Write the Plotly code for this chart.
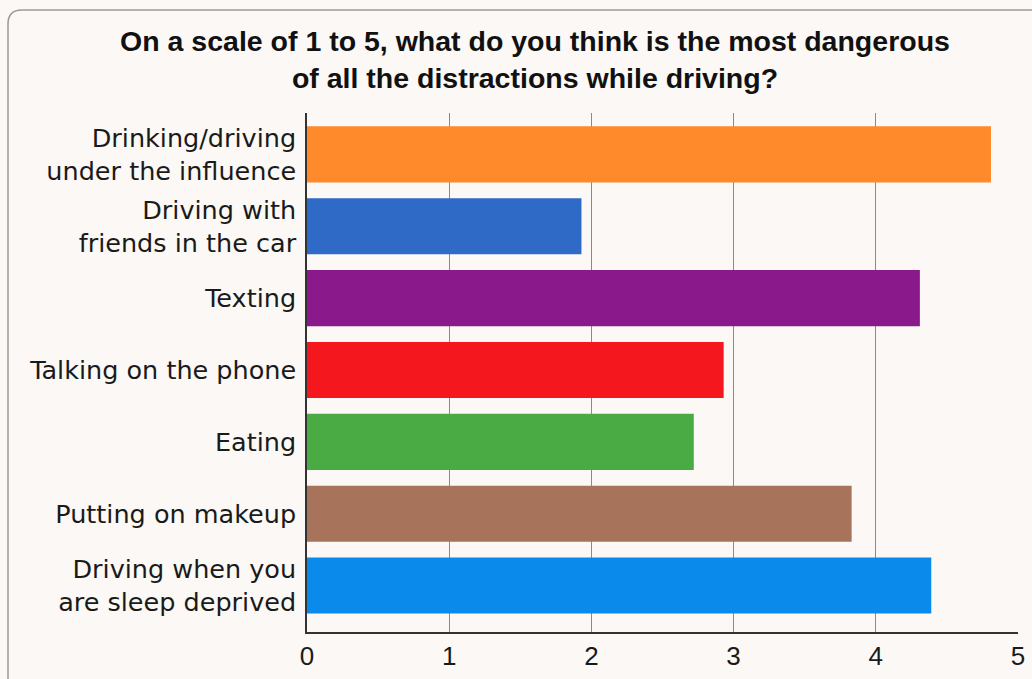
import plotly.graph_objects as go

categories = [
    "Drinking/driving<br>under the influence",
    "Driving with<br>friends in the car",
    "Texting",
    "Talking on the phone",
    "Eating",
    "Putting on makeup",
    "Driving when you<br>are sleep deprived",
]
values = [4.81, 1.93, 4.31, 2.93, 2.72, 3.83, 4.39]
colors = ["#FF8A2C", "#2F6AC6", "#8A1A8B", "#F5171E", "#4AAA43", "#A8735B", "#0A8AEB"]
x_ticks = [0, 1, 2, 3, 4, 5]

W, H = 1032, 679
L, R, T, B = 307, 14, 113, 47
pw, ph = W - L - R, H - T - B


def px(x):
    return (x - L) / pw


def py(y):
    return (H - B - y) / ph


fig = go.Figure()
fig.add_trace(go.Bar(
    y=categories, x=values, orientation="h",
    marker=dict(color=colors, line=dict(width=0)),
    hoverinfo="x+y",
))

border = (
    f"M {px(8)},{py(690)} L {px(8)},{py(24)} "
    f"Q {px(8)},{py(10)} {px(22)},{py(10)} L {px(1040)},{py(10)}"
)

fig.update_layout(
    width=W, height=H,
    margin=dict(l=L, r=R, t=T, b=B, autoexpand=False),
    paper_bgcolor="#FBF8F5",
    plot_bgcolor="rgba(0,0,0,0)",
    bargap=0.22,
    showlegend=False,
    font=dict(family="Liberation Sans, Arial, sans-serif", color="#1a1a1a"),
    title=dict(
        text="<b>On a scale of 1 to 5, what do you think is the most dangerous<br>of all the distractions while driving?</b>",
        x=535 / W, xanchor="center",
        y=1 - 51 / H, yanchor="middle",
        font=dict(size=28.5, family="Liberation Sans Narrow, Liberation Sans, Arial", color="#111"),
    ),
    xaxis=dict(
        range=[0, 5], tickvals=x_ticks, ticktext=[str(v) for v in x_ticks],
        showgrid=True, gridcolor="#8a8a8a", gridwidth=1,
        showline=True, linecolor="#333", linewidth=1.5,
        zeroline=False, ticks="", tickfont=dict(size=26, color="#1a1a1a"),
        ticklabelstandoff=0, automargin=False,
        fixedrange=True,
    ),
    yaxis=dict(
        categoryorder="array", categoryarray=categories,
        range=[6.646, -0.576],
        showgrid=False, showline=True, linecolor="#333", linewidth=1.5,
        ticks="", tickfont=dict(size=25.5, family="DejaVu Sans, Liberation Sans, Arial", color="#1a1a1a"),
        ticklabelstandoff=4, automargin=False,
        fixedrange=True,
    ),
    shapes=[dict(
        type="path", path=border, xref="paper", yref="paper",
        line=dict(color="#9a9a9a", width=1.5), layer="below",
    )],
)

fig.write_html("out.html")
